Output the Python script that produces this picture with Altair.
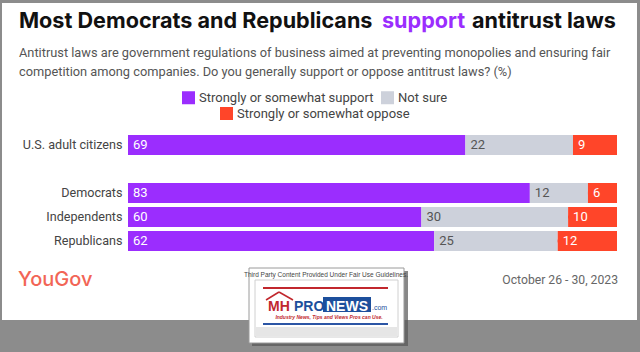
import altair as alt
import pandas as pd

# ---------------- data ----------------
groups = ["U.S. adult citizens", "Democrats", "Independents", "Republicans"]
categories = ["Strongly or somewhat support", "Not sure", "Strongly or somewhat oppose"]
support = [69, 83, 60, 62]
not_sure = [22, 12, 30, 25]
oppose = [9, 6, 10, 12]
colors = ["#9b2dfe", "#cdd1db", "#ff4529"]
y_domain = ["U.S. adult citizens", " ", "Democrats", "Independents", "Republicans"]

title_parts = ["Most Democrats and Republicans", "support", "antitrust laws"]
subtitle_lines = [
    "Antitrust laws are government regulations of business aimed at preventing monopolies and ensuring fair",
    "competition among companies. Do you generally support or oppose antitrust laws? (%)",
]
source_text = "YouGov"
date_text = "October 26 - 30, 2023"

rows = []
for i, g in enumerate(groups):
    for j, vals in enumerate([support, not_sure, oppose]):
        rows.append({"group": g, "category": categories[j], "value": vals[i], "order": j})
df = pd.DataFrame(rows)

TFONT = "Inter"
FONT = "Roboto"
W, H = 489, 120
PL, PT = 128, 133

# ---------------- scales / encodings ----------------
y_enc = alt.Y(
    "group:N",
    scale=alt.Scale(domain=y_domain, paddingInner=1 / 6, paddingOuter=1 / 12),
    axis=alt.Axis(
        title=None, domain=False, ticks=False, labelFontSize=12.6, labelColor="#444444",
        labelPadding=6, labelFont=FONT, zindex=2,
    ),
)
x_scale = alt.Scale(domain=[0, 1], nice=False)

base = alt.Chart(df).transform_stack(
    stack="value", groupby=["group"], as_=["x0", "x1"], sort=[alt.SortField("order")],
    offset="normalize",
)

legend_common = dict(
    title=None, orient="none", direction="horizontal", symbolType="square",
    symbolSize=169, symbolStrokeWidth=0, labelFontSize=13, labelColor="#444444",
    labelFont=FONT, labelOffset=4, labelLimit=400, symbolOpacity=1,
)

# hidden layer (drawn beneath the bars) that only provides the second legend row
dummy = base.transform_filter("datum.order == 2").mark_point(
    shape="square", filled=True, fill=colors[2], size=8, strokeWidth=0, opacity=1
).encode(
    y=y_enc,
    x=alt.X("x0:Q", scale=x_scale, axis=None),
    stroke=alt.Stroke(
        "category:N",
        scale=alt.Scale(domain=[categories[2]], range=[colors[2]]),
        legend=alt.Legend(
            legendX=220 - PL, legendY=107 - PT, symbolFillColor=colors[2], **legend_common
        ),
    ),
)

bars = base.mark_bar(cornerRadius=0).encode(
    y=y_enc,
    x=alt.X("x0:Q", scale=x_scale, axis=None),
    x2="x1:Q",
    color=alt.Color(
        "category:N",
        scale=alt.Scale(domain=categories, range=colors),
        legend=alt.Legend(
            legendX=182 - PL, legendY=91 - PT, values=categories[:2], columnPadding=7,
            **legend_common
        ),
    ),
)

labels = base.mark_text(align="left", baseline="middle", dx=5, fontSize=13, font=FONT).encode(
    y=y_enc,
    x=alt.X("x0:Q", scale=x_scale, axis=None),
    text="value:Q",
    color=alt.condition("datum.order == 1", alt.value("#555555"), alt.value("#ffffff")),
)

one = alt.Chart(pd.DataFrame({"d": [0]}))


def txt(s, x, y, size, color, weight="normal", align="left", font=FONT, style="normal"):
    return one.mark_text(
        text=s, align=align, baseline="alphabetic", fontSize=size, color=color,
        fontWeight=weight, font=font, fontStyle=style,
    ).encode(x=alt.value(x - PL), y=alt.value(y - PT))


def rect(x1, y1, x2, y2, fill, stroke=None, sw=0, opacity=1):
    kw = dict(fill=fill, opacity=opacity)
    if stroke:
        kw.update(stroke=stroke, strokeWidth=sw)
    return one.mark_rect(**kw).encode(
        x=alt.value(x1 - PL), x2=alt.value(x2 - PL), y=alt.value(y1 - PT), y2=alt.value(y2 - PT)
    )


def rule(x1, y1, x2, y2, color, sw):
    return one.mark_rule(color=color, strokeWidth=sw).encode(
        x=alt.value(x1 - PL), x2=alt.value(x2 - PL), y=alt.value(y1 - PT), y2=alt.value(y2 - PT)
    )


panel = rect(2, 3, 637, 320, "#ffffff")

title_layers = [
    txt(title_parts[0], 19, 28, 21.6, "#111111", "bold", font=TFONT),
    txt(title_parts[1], 382, 28, 21.6, colors[0], "bold", font=TFONT),
    txt(title_parts[2], 472, 28, 21.6, "#111111", "bold", font=TFONT),
    txt(subtitle_lines[0], 19, 56.5, 12.8, "#555555"),
    txt(subtitle_lines[1], 19, 75.5, 12.8, "#555555"),
    txt(source_text, 18, 286, 20, "#f26556", 500, font=TFONT),
    txt(date_text, 618, 284, 12.2, "#666666", align="right"),
]

# fair-use watermark badge
badge = [
    rect(252, 271, 408, 346, "#555555", opacity=0.7),
    rect(249, 268, 404, 343, "#ffffff", "#9a9a9a", 1),
    rect(255, 280, 398, 337, "#ffffff", "#d0d0d0", 1),
    rect(256, 327, 397, 336, "#e6e6e6"),
    txt("Third Party Content Provided Under Fair Use Guidelines.", 326, 277, 6.5, "#444444",
        align="center", font="Liberation Sans Narrow, Liberation Sans"),
    rule(263, 288, 388, 288, "#c1272d", 2),
    rule(266, 300, 279, 292, "#c1272d", 1.5),
    rule(279, 292, 293, 300, "#c1272d", 1.5),
    txt("MH", 268, 311, 14, "#c1272d", "bold", font="Liberation Sans"),
    txt("PRO", 294, 311, 14, "#1d4f9c", "bold", font="Liberation Sans"),
    rect(323, 297, 371, 312, "#1d4f9c"),
    txt("NEWS", 347, 310.5, 14, "#ffffff", "bold", align="center", font="Liberation Sans"),
    txt(".com", 372, 310, 7, "#1d4f9c", font="Liberation Sans"),
    txt("Industry News, Tips and Views Pros can Use.", 329, 319, 5, "#c1272d", "bold",
        align="center", font="Liberation Sans", style="italic"),
    rule(263, 324, 388, 324, "#2b55a5", 2),
]

chart = alt.layer(
    panel, dummy, bars, labels, *title_layers, *badge
).properties(
    width=W, height=H,
    padding={"left": PL, "top": PT, "right": 640 - PL - W, "bottom": 352 - PT - H},
    autosize=alt.AutoSizeParams(type="none"),
    background="#8c8c8c",
).configure_view(stroke=None)

chart.save("out.html", embed_options={"renderer": "svg", "actions": False})
